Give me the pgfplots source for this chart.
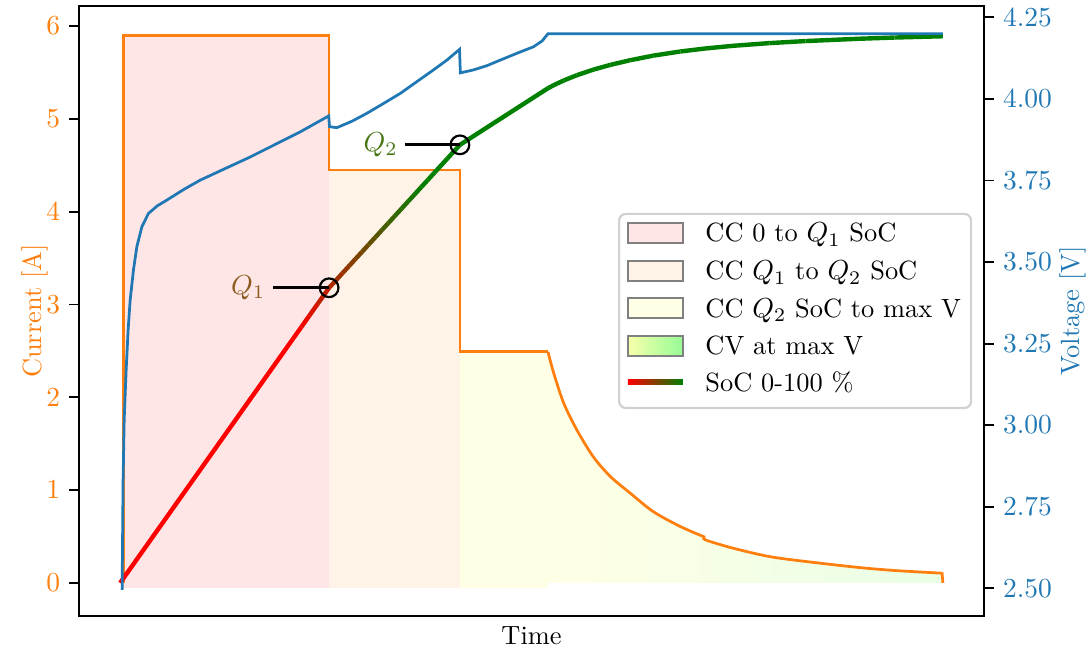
\documentclass[border=0pt]{standalone}
\usepackage{pgfplots}
\usepackage{pgfplotstable}
\pgfplotsset{compat=1.18}

\definecolor{tabblue}{HTML}{1F77B4}
\definecolor{taborange}{HTML}{FF7F0E}
\definecolor{fillA}{RGB}{255,230,230}
\definecolor{fillB}{RGB}{255,242,231}
\definecolor{fillC}{RGB}{255,255,230}
\definecolor{cvL}{RGB}{255,255,230}
\definecolor{cvR}{RGB}{233,255,230}
\definecolor{legcvL}{RGB}{248,255,170}
\definecolor{legcvR}{RGB}{150,252,150}
\definecolor{socgreen}{RGB}{0,128,0}
\definecolor{qone}{RGB}{139,90,30}
\definecolor{qtwo}{RGB}{72,118,20}
\definecolor{patchedge}{RGB}{128,128,128}

\pgfplotsset{
  colormap={socmap}{rgb255=(255,0,0) rgb255=(0,128,0)},
  commonaxis/.style={
    scale only axis, width=329.1pt, height=221.8pt,
    at={(0,0)}, anchor=south west,
    xmin=-5, xmax=105,
    tick align=outside, major tick length=3.5pt,
    axis line style={line width=0.7pt},
    every tick/.style={black, line width=0.7pt},
  },
}

% charging current, A: constant-current steps
\pgfplotstableread{
t     I
0.4   0
0.4   5.90
25.4  5.90
25.4  4.45
41.3  4.45
41.3  2.49
52.0  2.49
}\cctable

% current decay during the constant-voltage phase
\pgfplotstableread{
t     I
52.0  2.49
52.7  2.26
53.9  1.94
55.5  1.65
57.5  1.36
59.6  1.145
62.0  0.967
64.8  0.768
68.1  0.607
71.1  0.492
}\cvtableA
\pgfplotstableread{
t     I
71.1  0.492
71.15 0.463
74.5  0.374
78.9  0.284
83.3  0.231
89.8  0.166
94.1  0.134
99.8  0.105
}\cvtableB

% shaded area under the constant-voltage current
\pgfplotstableread{
t     I
52.0  0
52.0  2.49
52.7  2.26
53.9  1.94
55.5  1.65
57.5  1.36
59.6  1.145
62.0  0.967
64.8  0.768
68.1  0.607
71.1  0.492
71.15 0.463
74.5  0.374
78.9  0.284
83.3  0.231
89.8  0.166
94.1  0.134
99.8  0.105
99.8  0
}\cvfilltable

% terminal voltage, V
\pgfplotstableread{
t      V
0.24   2.495
0.36   2.832
0.49   3.016
0.73   3.169
0.97   3.292
1.22   3.384
1.62   3.476
2.03   3.547
2.64   3.608
3.44   3.649
4.50   3.672
5.68   3.690
7.70   3.722
9.72   3.751
12.8   3.787
15.8   3.822
18.8   3.860
21.88  3.899
25.35  3.948
25.45  3.915
26.34  3.912
28.2   3.932
29.99  3.956
32.0   3.986
34.05  4.017
36.06  4.053
38.08  4.089
39.71  4.119
41.25  4.152
41.35  4.080
42.94  4.089
44.57  4.102
46.19  4.119
48.22  4.140
50.24  4.160
51.3   4.178
52.0   4.200
100.0  4.200
}\voltagetable

% state of charge, scaled to the current axis
\pgfplotstableread{
t     S
0     0
18    2.254
19    2.379
20    2.504
21    2.629
22    2.754
23    2.880
24    3.005
25.4  3.180
26.2  3.257
27.0  3.335
27.8  3.412
28.6  3.490
29.4  3.567
30.2  3.645
31.0  3.722
31.8  3.800
32.6  3.877
33.4  3.955
34.2  4.032
35.0  4.110
35.8  4.187
36.6  4.265
37.4  4.342
38.2  4.420
39.8  4.575
41.3  4.720
52.0  5.330
52.7  5.363
53.9  5.413
55.5  5.470
57.5  5.530
59.6  5.582
62.0  5.632
64.8  5.681
68.1  5.726
71.1  5.758
74.5  5.787
78.9  5.816
83.3  5.838
89.8  5.863
94.1  5.876
100.0 5.890
}\soctable

\begin{document}
\fontsize{9.6}{11.5}\selectfont
\begin{tikzpicture}
\begin{axis}[commonaxis,
  ymin=-0.356, ymax=6.216,
  xtick=\empty,
  ytick={0,1,2,3,4,5,6},
  ytick pos=left,
  yticklabel style={text=taborange},
  xlabel={Time},
  xlabel style={at={(axis description cs:0.5,-0.0328)}, anchor=center},
  ylabel={Current [A]},
  ylabel style={text=taborange, at={(axis description cs:-0.0486,0.5)}, anchor=center},
]
% charging phases
\addplot[draw=none, fill=fillA] coordinates {(0.4,-0.05) (0.4,5.90) (25.4,5.90) (25.4,-0.05)} -- cycle;
\addplot[draw=none, fill=fillB] coordinates {(25.4,-0.05) (25.4,4.45) (41.3,4.45) (41.3,-0.05)} -- cycle;
\addplot[draw=none, fill=fillC] coordinates {(41.3,-0.05) (41.3,2.49) (52.0,2.49) (52.0,-0.05)} -- cycle;
\addplot[draw=none, left color=cvL, right color=cvR] table[x=t, y=I] {\cvfilltable} -- cycle;

% current
\addplot[taborange, line width=1pt] table[x=t, y=I] {\cctable};
\addplot[taborange, line width=1pt, smooth, tension=0.5] table[x=t, y=I] {\cvtableA};
\addplot[taborange, line width=1pt, smooth, tension=0.5] table[x=t, y=I] {\cvtableB};
\addplot[taborange, line width=1pt] coordinates {(99.8,0.105) (99.9,0.105) (100,0)};

% state of charge, coloured from red to green
\addplot[mesh, colormap name=socmap, point meta=\thisrow{S},
  point meta min=2.7, point meta max=4.3, line width=1.6pt]
  table[x=t, y=S] {\soctable};

% Q1 and Q2 markers
\addplot[black, line width=1pt] coordinates {(18.6,3.18) (25.4,3.18)};
\addplot[black, line width=1pt] coordinates {(34.6,4.72) (41.3,4.72)};
\addplot[only marks, mark=o, mark size=3.4pt, black, line width=0.8pt] coordinates {(25.4,3.18) (41.3,4.72)};
\node[anchor=east, text=qone, inner sep=0pt] at (axis cs:17.7,3.18) {$Q_1$};
\node[anchor=east, text=qtwo, inner sep=0pt] at (axis cs:33.8,4.72) {$Q_2$};
\end{axis}

\begin{axis}[commonaxis,
  ymin=2.415, ymax=4.285,
  axis x line=none,
  axis y line*=right,
  ytick={2.5,2.75,3,3.25,3.5,3.75,4,4.25},
  yticklabel style={text=tabblue, /pgf/number format/.cd, fixed, fixed zerofill, precision=2},
  ylabel={Voltage [V]},
  ylabel style={text=tabblue, at={(axis description cs:1.0983,0.5)}, anchor=center},
]
\addplot[tabblue, line width=1pt] table[x=t, y=V] {\voltagetable};
\end{axis}

% legend
\begin{scope}[x=1pt, y=1pt]
  \draw[draw=black!18, line width=0.8pt, rounded corners=2.5pt, fill=white, fill opacity=0.8]
    (196.4,75.6) rectangle (324.4,146.2);
  \draw[fill=fillA, draw=patchedge, line width=0.8pt] (199.6,135.7) rectangle (219.6,142.9);
  \draw[fill=fillB, draw=patchedge, line width=0.8pt] (199.6,121.9) rectangle (219.6,129.1);
  \draw[fill=fillC, draw=patchedge, line width=0.8pt] (199.6,108.4) rectangle (219.6,115.6);
  \path[left color=legcvL, right color=legcvR] (199.6,94.6) rectangle (219.6,101.8);
  \draw[draw=patchedge, line width=0.8pt] (199.6,94.6) rectangle (219.6,101.8);
  \path[left color=red, right color=socgreen] (199.6,84.0) rectangle (219.6,85.8);
  \node[anchor=base west, inner sep=0pt] at (227.6,136.0) {CC 0 to $Q_1$ SoC};
  \node[anchor=base west, inner sep=0pt] at (227.6,122.2) {CC $Q_1$ to $Q_2$ SoC};
  \node[anchor=base west, inner sep=0pt] at (227.6,108.7) {CC $Q_2$ SoC to max V};
  \node[anchor=base west, inner sep=0pt] at (227.6,94.9) {CV at max V};
  \node[anchor=base west, inner sep=0pt] at (227.6,81.6) {SoC 0-100 \%};
\end{scope}

\pgfresetboundingbox
\useasboundingbox (-28.73pt,-12.36pt) rectangle (368.36pt,223.98pt);
\end{tikzpicture}
\end{document}
